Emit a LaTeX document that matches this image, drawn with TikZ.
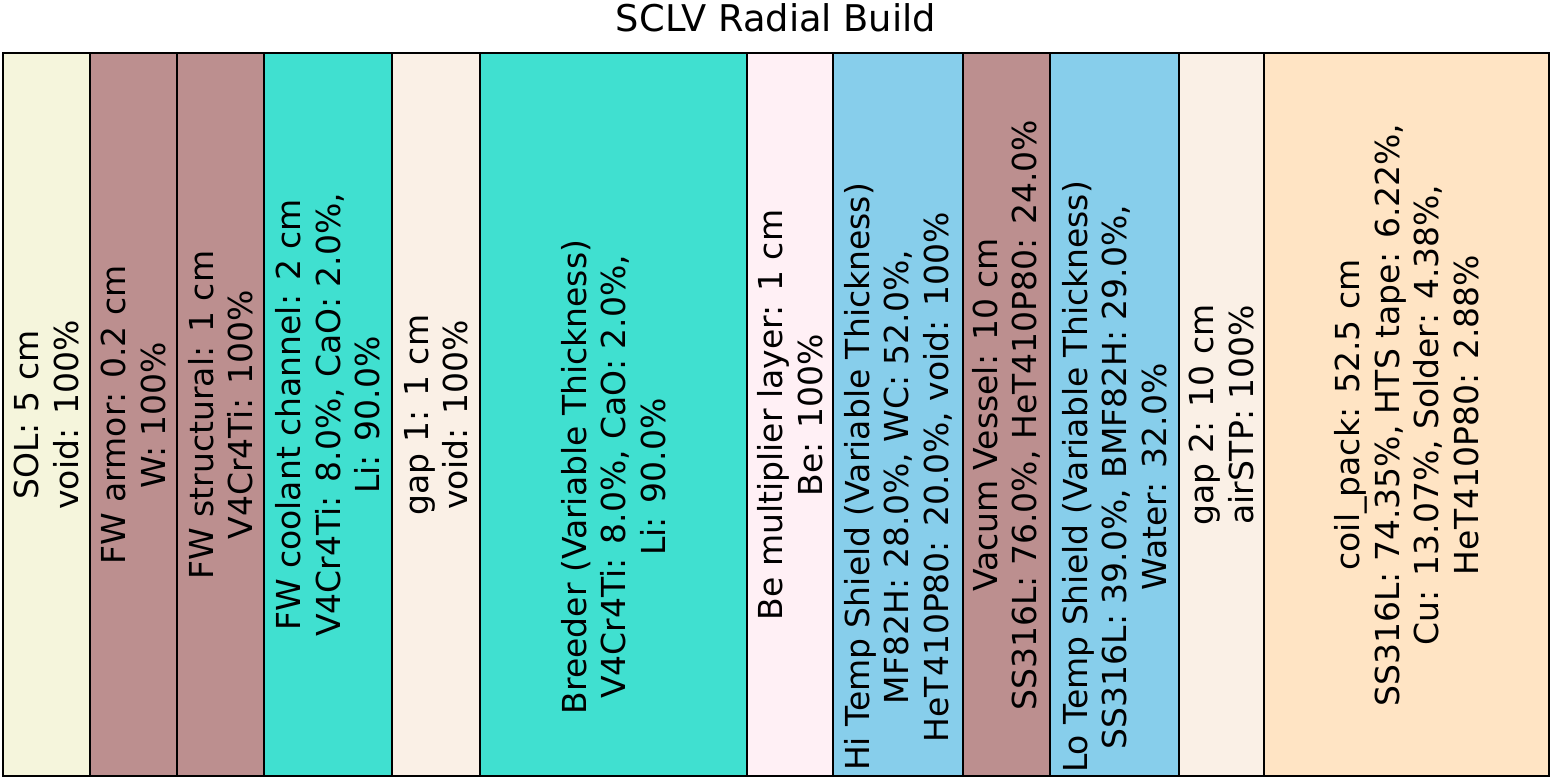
\documentclass[tikz,border=0pt]{standalone}
\usepackage{fontspec}
\setmainfont{DejaVu Sans}
\definecolor{solbeige}{HTML}{F5F5DC}
\definecolor{rosybrown}{HTML}{BC8F8F}
\definecolor{turq}{HTML}{40E0D0}
\definecolor{linen}{HTML}{FAF0E6}
\definecolor{lavblush}{HTML}{FFF0F5}
\definecolor{skyblue}{HTML}{87CEEB}
\definecolor{bisque}{HTML}{FFE4C4}
\tikzset{
    layer/.style={draw=black,line width=1.4pt},
    lbl/.style={rotate=90,align=center,inner sep=0pt,font=\fontsize{16.5}{19.8}\selectfont}
}
\begin{document}
\begin{tikzpicture}[x=0.5pt,y=0.5pt]
\useasboundingbox (0,0) rectangle (1556,780);

% \draw[step=50,gray,very thin] (0,0) grid (1556,780);
        \node (title) [anchor=base,font=\fontsize{18.4}{22}\selectfont] at (776,748) {SCLV Radial Build};

        \foreach \a/\b/\c in {3/90/solbeige,90/177/rosybrown,177/264/rosybrown,264/392/turq,392/480/linen,480/747/turq,747/833/lavblush,833/963/skyblue,963/1050/rosybrown,1050/1179/skyblue,1179/1264/linen,1264/1549/bisque}
            \draw[layer,fill=\c] (\a,4) rectangle (\b,727);
        \draw[layer] (3,4) rectangle (1549,727);

        \node (sol) [lbl] at (46.5,365) {SOL: 5 cm\\void: 100\%};
        \node (armor) [lbl] at (133.5,365) {FW armor: 0.2 cm\\W: 100\%};
        \node (struct) [lbl] at (220.5,365) {FW structural: 1 cm\\V4Cr4Ti: 100\%};
        \node (cool) [lbl] at (328,365) {FW coolant channel: 2 cm\\V4Cr4Ti: 8.0\%, CaO: 2.0\%,\\Li: 90.0\%};
        \node (gapone) [lbl] at (436,365) {gap 1: 1 cm\\void: 100\%};
        \node (breeder) [lbl] at (613.5,303) {Breeder (Variable Thickness)\\V4Cr4Ti: 8.0\%, CaO: 2.0\%,\\Li: 90.0\%};
        \node (bemult) [lbl] at (790,365) {Be multiplier layer: 1 cm\\Be: 100\%};
        \node (hishield) [lbl] at (898,303) {Hi Temp Shield (Variable Thickness)\\MF82H: 28.0\%, WC: 52.0\%,\\HeT410P80: 20.0\%, void: 100\%};
        \node (vessel) [lbl] at (1006.5,365) {Vacum Vessel: 10 cm\\SS316L: 76.0\%, HeT410P80: 24.0\%};
        \node (loshield) [lbl] at (1114.5,303) {Lo Temp Shield (Variable Thickness)\\SS316L: 39.0\%, BMF82H: 29.0\%,\\Water: 32.0\%};
        \node (gaptwo) [lbl] at (1221.5,365) {gap 2: 10 cm\\airSTP: 100\%};
        \node (coil) [lbl] at (1406.5,365) {coil\_pack: 52.5 cm\\SS316L: 74.35\%, HTS tape: 6.22\%,\\Cu: 13.07\%, Solder: 4.38\%,\\HeT410P80: 2.88\%};

\end{tikzpicture}
\end{document}
